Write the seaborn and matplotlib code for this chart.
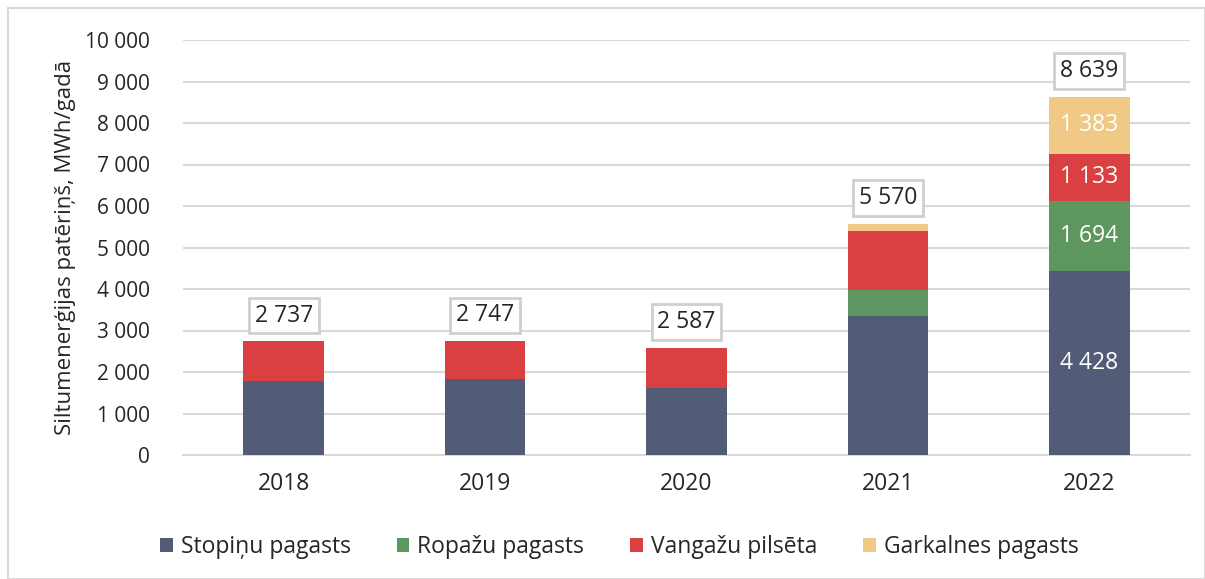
import numpy as np
import pandas as pd
import matplotlib
matplotlib.use("Agg")
import matplotlib.pyplot as plt
import seaborn as sns
from matplotlib.patches import Rectangle, Patch

# ------------------- Dati -------------------
years = ["2018", "2019", "2020", "2021", "2022"]
series_names = ["Stopiņu pagasts", "Ropažu pagasts", "Vangažu pilsēta", "Garkalnes pagasts"]
stopinu = [1790, 1824, 1614, 3342, 4428]
ropazu = [0, 0, 0, 641, 1694]
vangazu = [947, 923, 973, 1422, 1133]
garkalnes = [0, 0, 0, 165, 1383]
totals = [2737, 2747, 2587, 5570, 8639]
yticks = list(range(0, 10001, 1000))

colors = ["#525C76", "#5E9660", "#DA4041", "#F0C987"]

sns.set_theme(style="white")
plt.rcParams["font.family"] = ["Open Sans", "DejaVu Sans"]

def fmt(v):
    return f"{v:,}".replace(",", " ")

df = pd.DataFrame({"year": years, "s0": stopinu, "s1": ropazu, "s2": vangazu, "s3": garkalnes})
cum = df[["s0", "s1", "s2", "s3"]].cumsum(axis=1)

fig = plt.figure(figsize=(12.05, 5.79), dpi=100)
ax = fig.add_axes([183 / 1205, 1 - 455 / 579, 1007 / 1205, 415 / 579])

# stacked bars: draw cumulative sums from top to bottom
for i in range(3, -1, -1):
    sns.barplot(x=df["year"], y=cum[f"s{i}"], color=colors[i], width=0.4,
                saturation=1, linewidth=0, ax=ax, zorder=3)

ax.set_ylim(0, 10000)
ax.set_yticks(yticks)
ax.set_yticklabels([fmt(v) for v in yticks], fontsize=15, color="#262626")
ax.tick_params(axis="x", labelsize=16.5, length=0, pad=12, labelcolor="#262626")
ax.tick_params(axis="y", length=0, pad=24)
ax.set_xlabel("")
ax.set_ylabel("Siltumenerģijas patēriņš, MWh/gadā", fontsize=16, labelpad=6, color="#262626")
ax.yaxis.grid(True, color="#D9D9D9", linewidth=1.5, zorder=0)
for s in ["top", "right", "left"]:
    ax.spines[s].set_visible(False)
ax.spines["bottom"].set_color("#D9D9D9")
ax.spines["bottom"].set_linewidth(1.5)

# total labels in boxes
for i, t in enumerate(totals):
    ax.text(i, t + 330, fmt(t), ha="center", va="bottom", fontsize=16.5, zorder=5,
            color="#262626",
            bbox=dict(boxstyle="square,pad=0.25", fc="white", ec="#CFCFCF", lw=2))

# segment labels for 2022
i = 4
bottoms = [0, stopinu[i], stopinu[i] + ropazu[i], stopinu[i] + ropazu[i] + vangazu[i]]
vals = [stopinu[i], ropazu[i], vangazu[i], garkalnes[i]]
for b, v in zip(bottoms, vals):
    ax.text(i, b + v / 2, fmt(v), ha="center", va="center", fontsize=16.5,
            color="white", zorder=5)

handles = [Patch(facecolor=c, edgecolor="none") for c in colors]
fig.legend(handles, series_names, loc="center", bbox_to_anchor=(0.514, 1 - 547 / 579),
           ncol=4, frameon=False, fontsize=16.5, handlelength=0.55, handleheight=0.55,
           handletextpad=0.35, columnspacing=2.0, labelcolor="#262626")

# outer frame
fig.patches.append(Rectangle((8 / 1205, 0), 1 - 8 / 1205, 1 - 8 / 579, transform=fig.transFigure,
                             fill=False, ec="#D9D9D9", lw=1.5))

fig.savefig("out.png", dpi=100)
